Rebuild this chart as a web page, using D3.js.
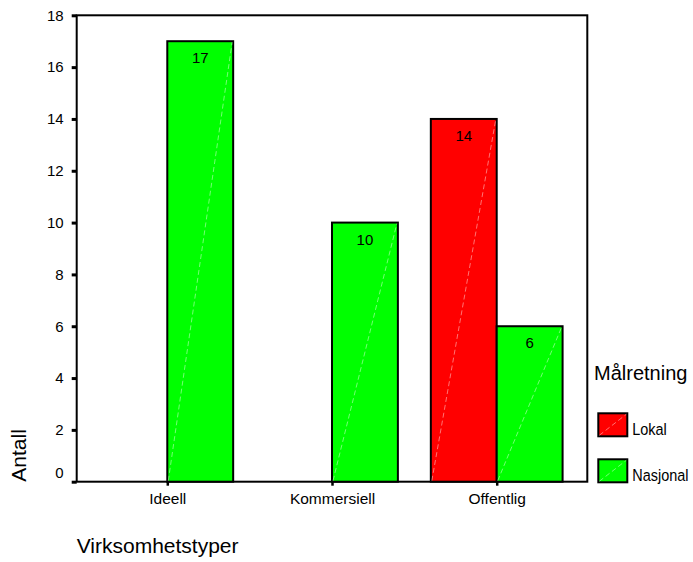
<!DOCTYPE html>
<html>
<head>
<meta charset="utf-8">
<script src="https://cdn.jsdelivr.net/npm/d3@7/dist/d3.min.js"></script>
<style>
  html, body { margin: 0; padding: 0; background: #ffffff; }
  svg { display: block; font-family: "Liberation Sans", Arial, sans-serif; }
</style>
</head>
<body>
<svg id="chart" width="693" height="562"></svg>
<script>
// Antall per virksomhetstype, fordelt på målretning
const categories = ["Ideell", "Kommersiell", "Offentlig"];
const seriesNames = ["Lokal", "Nasjonal"];
const lokalValues = [0, 0, 14];
const nasjonalValues = [17, 10, 6];
const yTickValues = [0, 2, 4, 6, 8, 10, 12, 14, 16, 18];
const seriesColors = ["#ff0000", "#00ff00"];

const svg = d3.select("#chart");
const plot = { left: 76.7, top: 15.3, right: 587.3, bottom: 481.7 };

const x = d3.scalePoint()
  .domain(categories)
  .range([plot.left, plot.right])
  .padding(0.55);

const barW = x.step() * 0.4;
const inner = d3.scaleBand()
  .domain(seriesNames)
  .range([-barW, barW])
  .padding(0);

const y = d3.scaleLinear()
  .domain([0, 18])
  .range([plot.bottom, plot.top]);

const color = d3.scaleOrdinal().domain(seriesNames).range(seriesColors);

const rows = [];
categories.forEach((c, i) => {
  rows.push({ cat: c, series: "Lokal", value: lokalValues[i] });
  rows.push({ cat: c, series: "Nasjonal", value: nasjonalValues[i] });
});
const bars = rows.filter(d => d.value > 0);

// Plot frame
svg.append("rect")
  .attr("x", plot.left).attr("y", plot.top)
  .attr("width", plot.right - plot.left)
  .attr("height", plot.bottom - plot.top)
  .attr("fill", "none").attr("stroke", "#000").attr("stroke-width", 2);

// Bars
const g = svg.append("g");
const bar = g.selectAll("g.bar").data(bars).join("g").attr("class", "bar");
bar.append("rect")
  .attr("x", d => x(d.cat) + inner(d.series))
  .attr("y", d => y(d.value))
  .attr("width", inner.bandwidth())
  .attr("height", d => y(0) - y(d.value))
  .attr("fill", d => color(d.series))
  .attr("stroke", "#000").attr("stroke-width", 2);
bar.append("line")
  .attr("x1", d => x(d.cat) + inner(d.series) + 1)
  .attr("y1", y(0) - 1)
  .attr("x2", d => x(d.cat) + inner(d.series) + inner.bandwidth() - 1)
  .attr("y2", d => y(d.value) + 1)
  .attr("stroke", "#ffffff").attr("stroke-opacity", 0.45)
  .attr("stroke-width", 1).attr("stroke-dasharray", "5,3");
bar.append("text")
  .attr("x", d => x(d.cat) + inner(d.series) + inner.bandwidth() / 2)
  .attr("y", d => y(d.value) + 22)
  .attr("text-anchor", "middle")
  .attr("font-size", 15)
  .attr("fill", "#000")
  .text(d => d.value);

// Y axis
const yAxis = svg.append("g")
  .attr("transform", `translate(${plot.left},0)`)
  .call(d3.axisLeft(y).tickValues(yTickValues).tickSize(5).tickPadding(8));
yAxis.select(".domain").remove();
yAxis.selectAll(".tick line").attr("stroke", "#000").attr("stroke-width", 3);
yAxis.selectAll(".tick text")
  .attr("font-size", 15).attr("fill", "#000")
  .attr("font-family", "Liberation Sans, Arial, sans-serif");
yAxis.selectAll(".tick").filter(d => d === 0).select("text").attr("dy", "-0.3em");

// X axis
const xAxis = svg.append("g")
  .attr("transform", `translate(0,${plot.bottom})`)
  .call(d3.axisBottom(x).tickSize(4).tickPadding(7));
xAxis.select(".domain").remove();
xAxis.selectAll(".tick line").attr("stroke", "#000").attr("stroke-width", 2.5);
xAxis.selectAll(".tick text")
  .attr("font-size", 15.5).attr("fill", "#000")
  .attr("font-family", "Liberation Sans, Arial, sans-serif");

// Axis titles
svg.append("text")
  .attr("x", plot.left).attr("y", 553)
  .attr("font-size", 21).attr("fill", "#000")
  .text("Virksomhetstyper");
svg.append("text")
  .attr("transform", `translate(26,${plot.bottom}) rotate(-90)`)
  .attr("font-size", 21).attr("fill", "#000")
  .text("Antall");

// Legend
const legend = svg.append("g").attr("transform", "translate(594,0)");
legend.append("text")
  .attr("x", 0).attr("y", 380)
  .attr("font-size", 20).attr("fill", "#000")
  .text("Målretning");
const item = legend.selectAll("g.item").data(seriesNames).join("g")
  .attr("class", "item")
  .attr("transform", (d, i) => `translate(4.3,${413.3 + i * 46})`);
item.append("rect")
  .attr("width", 29).attr("height", 23)
  .attr("fill", d => color(d))
  .attr("stroke", "#000").attr("stroke-width", 2);
item.append("line")
  .attr("x1", 1).attr("y1", 22).attr("x2", 28).attr("y2", 1)
  .attr("stroke", "#ffffff").attr("stroke-opacity", 0.45)
  .attr("stroke-width", 1).attr("stroke-dasharray", "5,3");
item.append("text")
  .attr("transform", "translate(34,21.5) scale(0.85,1)")
  .attr("font-size", 17).attr("fill", "#000")
  .text(d => d);
</script>
</body>
</html>
